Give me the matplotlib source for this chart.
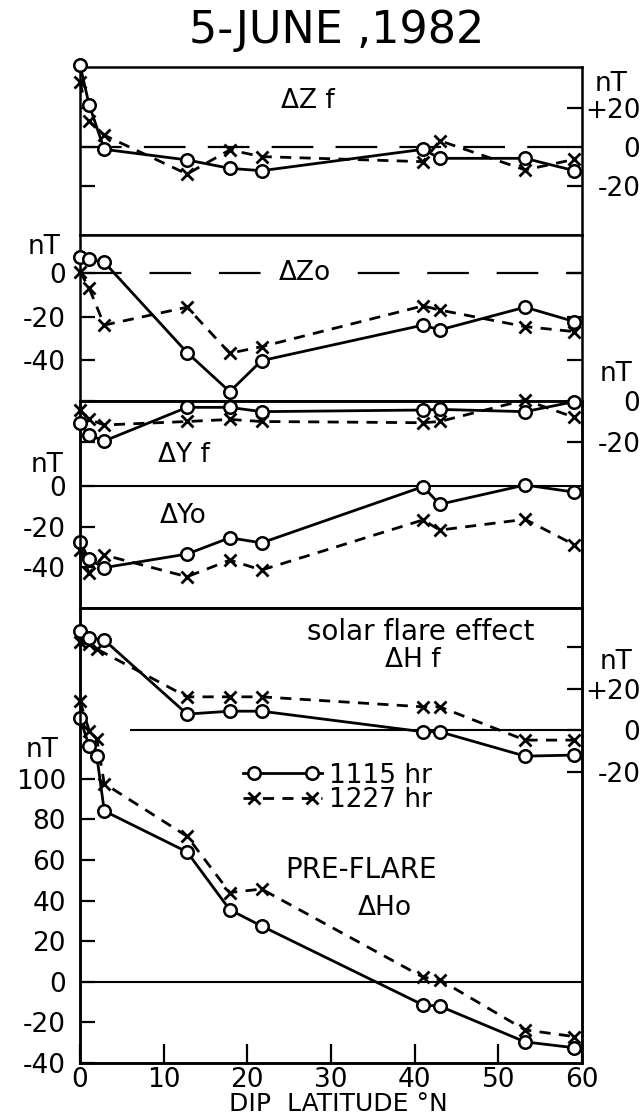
import numpy as np
import matplotlib
matplotlib.use('Agg')
import matplotlib.pyplot as plt
from matplotlib.legend_handler import HandlerLine2D
from matplotlib.lines import Line2D

plt.rcParams['font.family'] = 'DejaVu Sans'
plt.rcParams['lines.scale_dashes'] = False
plt.rcParams['axes.unicode_minus'] = False

# dip latitude of the stations (deg N)
lat = np.array([0.0, 1.1, 2.0, 2.9, 12.8, 17.9, 21.7, 41.0, 43.0, 53.2, 59.1])

# values in nT (nan = station not plotted)
nan = np.nan
dzf_1115 = np.array([41.8, 21.4, nan, -1.2, -6.6, -10.9, -12.1, -1.2, -5.8, -5.8, -12.1])
dzf_1227 = np.array([33.3, 13.0, nan, 6.0, -13.8, -1.5, -4.9, -7.5, 3.2, -11.7, -6.3])
dzo_1115 = np.array([7.5, 6.3, nan, 4.9, -36.5, -54.4, -40.2, -23.9, -26.1, -15.7, -22.3])
dzo_1227 = np.array([0.6, -7.0, nan, -23.9, -15.7, -36.8, -33.8, -15.1, -17.0, -24.6, -26.9])
dyf_1115 = np.array([-10.7, -16.6, nan, -19.5, -3.1, -3.1, -5.2, -4.4, -4.1, -5.2, -0.3])
dyf_1227 = np.array([-4.4, -9.0, nan, -11.7, -10.0, -9.0, -10.0, -10.6, -10.0, 0.5, -8.0])
dyo_1115 = np.array([-27.5, -36.2, nan, -40.2, -33.5, -25.5, -28.0, -0.3, -9.0, 0.5, -3.0])
dyo_1227 = np.array([-31.5, -43.0, nan, -34.0, -44.7, -36.5, -41.4, -16.7, -21.7, -16.4, -29.0])
dhf_1115 = np.array([47.5, 44.5, nan, 43.3, 7.7, 9.1, 9.1, -0.8, -0.8, -12.5, -12.0])
dhf_1227 = np.array([42.5, 41.2, 39.0, nan, 16.0, 16.0, 16.0, 11.2, 11.2, -4.8, -4.8])
dho_1115 = np.array([130.0, 116.0, 111.5, 84.2, 64.0, 35.5, 27.5, -11.4, -12.0, -29.6, -32.5])
dho_1227 = np.array([138.4, 123.7, 119.7, 97.7, 71.7, 44.0, 45.7, 2.3, 1.0, -23.7, -27.0])

xticks = [0, 10, 20, 30, 40, 50, 60]

W, H = 642, 1117
fig = plt.figure(figsize=(W / 100, H / 100), dpi=100)
FS = 19
LW = 2.0


def rect(top, bot, left=80, right=582):
    return [left / W, 1 - bot / H, (right - left) / W, (bot - top) / H]


def ftext(px, py, s, **kw):
    kw.setdefault('fontsize', FS)
    kw.setdefault('ha', 'center')
    kw.setdefault('va', 'center')
    return fig.text(px / W, 1 - py / H, s, **kw)


def style(ax):
    for sp in ax.spines.values():
        sp.set_linewidth(1.8)
    ax.tick_params(direction='in', length=11, width=1.6, labelsize=FS)
    ax.set_xlim(0, 60)


def series(ax, y1, y2):
    m = ~np.isnan(y1)
    l1, = ax.plot(lat[m], y1[m], color='k', lw=LW, marker='o', ms=9,
                  mfc='white', mec='k', mew=1.8, clip_on=False, zorder=5)
    m = ~np.isnan(y2)
    l2, = ax.plot(lat[m], y2[m], color='k', lw=LW, ls=(0, (8, 6)), marker='x',
                  ms=8, mew=2.0, clip_on=False, zorder=4)
    return l1, l2


def right_labels(ax, pad):
    ax.tick_params(axis='y', labelright=True, pad=pad)
    for t in ax.yaxis.get_major_ticks():
        t.label2.set_horizontalalignment('right')


class StubHandler(HandlerLine2D):
    # line runs the full handle width, the two markers sit inside it: -o--o-
    def create_artists(self, legend, orig_handle, xdescent, ydescent,
                       width, height, fontsize, trans):
        pad = 0.4 * fontsize
        x0, x1 = -xdescent, -xdescent + width
        xdata = np.array([x0, x0 + pad, x1 - pad, x1])
        ydata = np.full_like(xdata, (height - ydescent) / 2)
        line = Line2D(xdata, ydata)
        self.update_prop(line, orig_handle, legend)
        line.set_markevery([1, 2])
        line.set_transform(trans)
        return [line]


# ---- panel 1 : delta Zf
ax1 = fig.add_axes(rect(67, 235))
style(ax1)
ax1.set_ylim(-44.9, 40.8)
ax1.set_xticks([])
ax1.set_yticks([-20, 0, 20])
ax1.set_yticklabels(['-20', '0', '+20'])
ax1.tick_params(axis='y', left=True, right=True, labelleft=False)
right_labels(ax1, 42)
ax1.axhline(0, color='k', lw=1.6, ls=(0, (30, 16)), zorder=1)
series(ax1, dzf_1115, dzf_1227)

# ---- panel 2 : delta Zo
ax2 = fig.add_axes(rect(235, 401))
style(ax2)
ax2.set_ylim(-58.7, 17.4)
ax2.set_xticks([])
ax2.set_yticks([-40, -20, 0])
ax2.set_yticklabels(['-40', '-20', '0'])
ax2.tick_params(axis='y', left=True, right=True, pad=10)
ax2.axhline(0, color='k', lw=1.6, ls=(0, (30, 20)), zorder=1)
series(ax2, dzo_1115, dzo_1227)

# ---- panel 3 : delta Yf (right) and delta Yo (left)
ax3 = fig.add_axes(rect(401, 608))
style(ax3)
ax3.set_ylim(-60.1, 41.9)
ax3.set_xticks([])
ax3.set_yticks([-40, -20, 0])
ax3.set_yticklabels(['-40', '-20', '0'])
ax3.tick_params(axis='y', left=True, right=True, pad=10)
ax3.axhline(0, color='k', lw=1.5, zorder=1)
series(ax3, dyo_1115, dyo_1227)

ax3f = ax3.twinx()
style(ax3f)
ax3f.set_ylim(-101, 0)
ax3f.set_yticks([-20, 0])
ax3f.set_yticklabels(['-20', '0'])
ax3f.tick_params(axis='y', left=True, right=True)
right_labels(ax3f, 42)
series(ax3f, dyf_1115, dyf_1227)

# ---- panel 4 : delta Hf (right) and pre-flare delta Ho (left)
ax4 = fig.add_axes(rect(608, 1063))
style(ax4)
ax4.set_ylim(-39.9, 184.2)
ax4.set_yticks(np.arange(-40, 101, 20))
ax4.tick_params(axis='y', left=True, right=True, pad=10)
ax4.set_xticks(xticks)
ax4.tick_params(axis='x', top=False, length=14, pad=3)
ax4.axhline(0, color='k', lw=1.5, zorder=1)
h1, h2 = series(ax4, dho_1115, dho_1227)

ax4f = ax4.twinx()
style(ax4f)
ax4f.set_ylim(-160, 58.7)
ax4f.set_yticks([-20, 0, 20, 40])
ax4f.set_yticklabels(['-20', '0', '+20', ''])
right_labels(ax4f, 42)
ax4f.hlines(0, 6, 60, color='k', lw=1.5, zorder=1)
series(ax4f, dhf_1115, dhf_1227)

leg = ax4.legend([h1, h2], ['1115 hr', '1227 hr'], frameon=False,
                 loc='center left', bbox_to_anchor=(230 / W, 1 - 788 / H),
                 bbox_transform=fig.transFigure, fontsize=FS, handlelength=3.0,
                 handletextpad=0.25, labelspacing=-0.05, borderpad=0,
                 handler_map={h1: StubHandler(), h2: StubHandler()})

# ---- texts
ftext(337, 31, '5-JUNE ,1982', fontsize=32)
ftext(308, 101, 'ΔZ f')
ftext(305, 273, 'ΔZo', bbox=dict(facecolor='white', edgecolor='none', pad=6))
ftext(184, 455, 'ΔY f')
ftext(183, 516, 'ΔYo')
ftext(421, 632, 'solar flare effect', fontsize=20)
ftext(413, 660, 'ΔH f')
ftext(361, 870, 'PRE-FLARE', fontsize=20)
ftext(385, 908, 'ΔHo')
ftext(338, 1104, 'DIP  LATITUDE °N', fontsize=18)
for px, py in [(44, 247), (47, 465), (42, 750), (611, 84), (616, 374), (616, 662)]:
    ftext(px, py, 'nT')

fig.savefig('out.png', dpi=100)
